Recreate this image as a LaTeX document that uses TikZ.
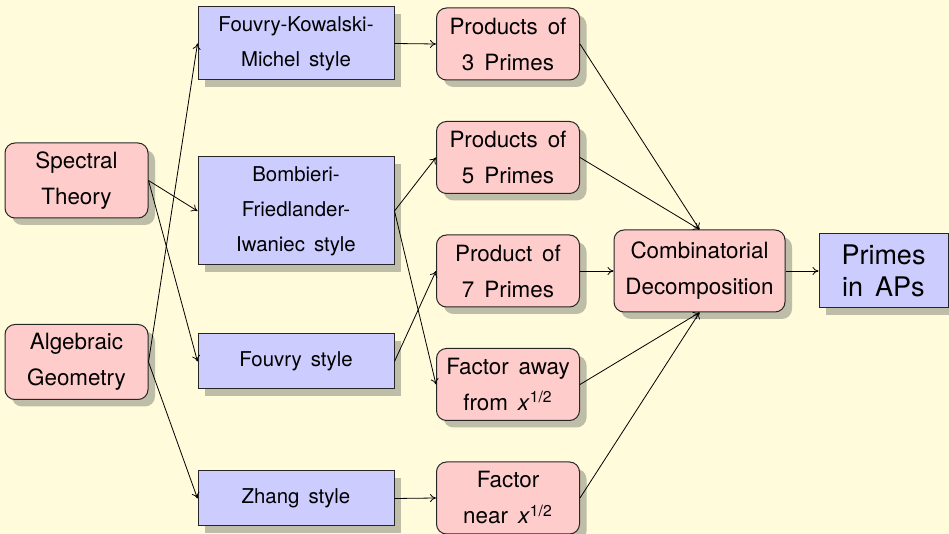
\documentclass[tikz,border=0pt]{standalone}
\usepackage{fontspec}
\setmainfont[WordSpace=1.6]{TeX Gyre Heros}
\usetikzlibrary{shadows,arrows.meta}
\definecolor{bg}{RGB}{255,251,219}
\definecolor{redfill}{RGB}{255,204,204}
\definecolor{bluefill}{RGB}{204,204,255}
\definecolor{shad}{RGB}{190,190,168}
\tikzset{
 base/.style={draw=black!85, line width=0.5pt, align=center, inner sep=0pt,
   drop shadow={shadow xshift=3.5pt, shadow yshift=-3.5pt, fill=shad, opacity=1}},
 redbox/.style={base, fill=redfill, rounded corners=5pt, font=\fontsize{11.2pt}{18pt}\selectfont},
 sidebox/.style={redbox, minimum width=71.5pt, minimum height=37.5pt},
 midbox/.style={redbox, minimum width=71.5pt, minimum height=36pt},
 bluebox/.style={base, fill=bluefill, font=\fontsize{10.2pt}{17.5pt}\selectfont, minimum width=98pt},
 conn/.style={-{To[length=3pt,width=4pt]}, line width=0.4pt},
}
\begin{document}
\begin{tikzpicture}[x=0.5pt,y=-0.5pt]
\fill[bg] (0,0) rectangle (949,534);
\useasboundingbox (0,0) rectangle (949,534);
\node[sidebox] (spec) at (76.5,180.5) {Spectral\\Theory};
\node[sidebox] (alg) at (76.5,362) {Algebraic\\Geometry};
\node[bluebox, minimum height=36.5pt] (fkm) at (296,43.5) {Fouvry-Kowalski-\\Michel style};
\node[bluebox, minimum height=54pt] (bfi) at (296,211) {Bombieri-\\Friedlander-\\Iwaniec style};
\node[bluebox, minimum height=27.5pt] (fouvry) at (296,361.5) {Fouvry style};
\node[bluebox, minimum height=27.5pt] (zhang) at (296,498.5) {Zhang style};
\node[midbox] (p3) at (508,44) {Products of\\3 Primes};
\node[midbox] (p5) at (508,157.5) {Products of\\5 Primes};
\node[midbox] (p7) at (508,271) {Product of\\7 Primes};
\node[midbox] (away) at (508,384.5) {Factor away\\from \textit{x}\textsuperscript{1/2}};
\node[midbox] (near) at (508,498) {Factor\\near \textit{x}\textsuperscript{1/2}};
\node[redbox, minimum width=85.5pt, minimum height=41pt] (comb) at (699.5,271) {Combinatorial\\Decomposition};
\node[base, fill=bluefill, minimum width=64.5pt, minimum height=37pt, font=\fontsize{13.5pt}{16pt}\selectfont] (primes) at (883.5,271) {Primes\\in APs};
\draw[conn] (spec.east) -- (bfi.west);
\draw[conn] (spec.east) -- (fouvry.west);
\draw[conn] (alg.east) -- (fkm.west);
\draw[conn] (alg.east) -- (zhang.west);
\draw[conn] (fkm.east) -- (p3.west);
\draw[conn] (bfi.east) -- (p5.west);
\draw[conn] (bfi.east) -- (away.west);
\draw[conn] (fouvry.east) -- (p7.west);
\draw[conn] (zhang.east) -- (near.west);
\draw[conn] (p3.east) -- (comb.north);
\draw[conn] (p5.east) -- (comb.north);
\draw[conn] (p7.east) -- (comb.west);
\draw[conn] (away.east) -- (comb.south);
\draw[conn] (near.east) -- (comb.south);
\draw[conn] (comb.east) -- (primes.west);
\end{tikzpicture}
\end{document}
